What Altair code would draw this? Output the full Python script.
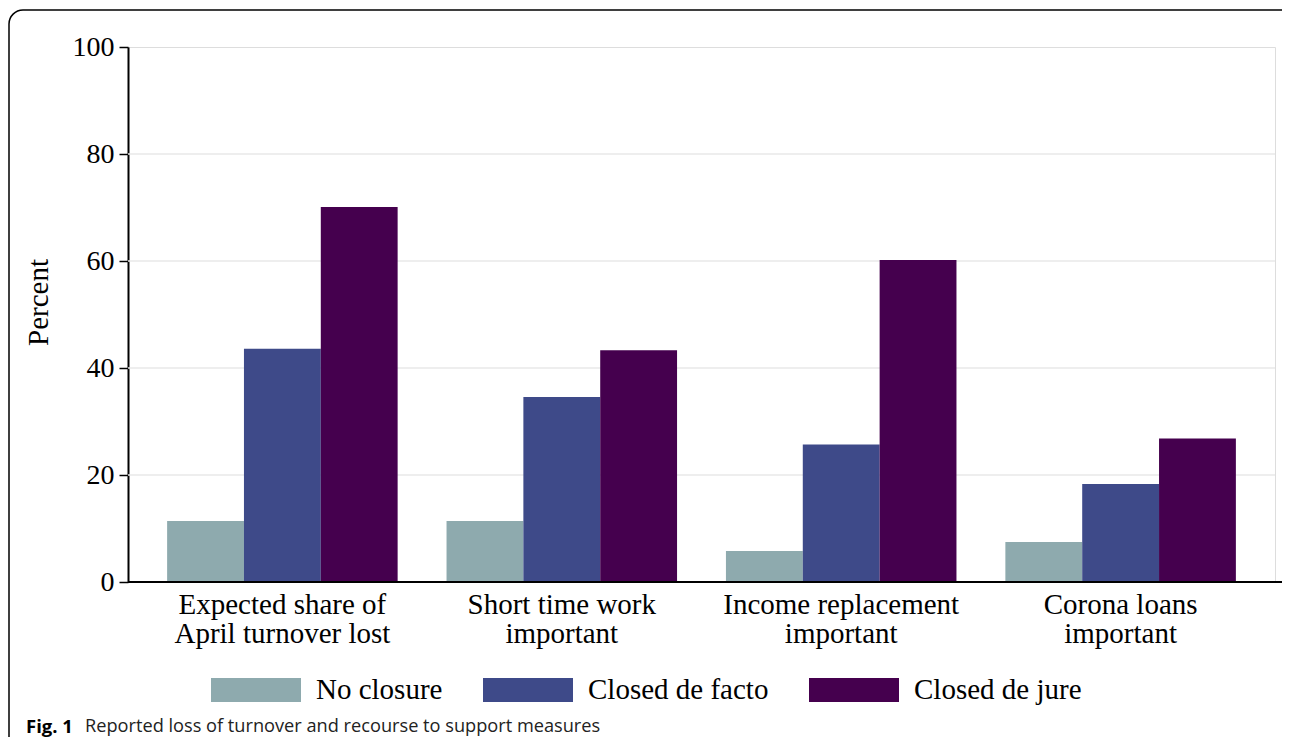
import altair as alt
import pandas as pd

categories = ["Expected share of|April turnover lost", "Short time work|important",
              "Income replacement|important", "Corona loans|important"]
series = ["No closure", "Closed de facto", "Closed de jure"]
no_closure = [11.4, 11.4, 5.8, 7.5]
de_facto = [43.6, 34.6, 25.7, 18.3]
de_jure = [70.1, 43.3, 60.2, 26.8]
colors = ["#8EAAAE", "#3E4A89", "#45004E"]
y_ticks = [0, 20, 40, 60, 80, 100]
grid_vals = [20, 40, 60, 80]
caption_bold = "Fig. 1"
caption_text = "Reported loss of turnover and recourse to support measures"

rows = []
for i, c in enumerate(categories):
    for s, vals in zip(series, [no_closure, de_facto, de_jure]):
        rows.append({"category": c, "series": s, "value": vals[i]})
df = pd.DataFrame(rows)

W, H = 1147, 535
SERIF = "Liberation Serif"

frame = alt.Chart(pd.DataFrame({"a": [0]})).mark_rect(
    fillOpacity=0, stroke="black", strokeWidth=1.5, cornerRadius=14
).encode(x=alt.value(-119), x2=alt.value(W + 40), y=alt.value(-37), y2=alt.value(H + 250))

grid = alt.Chart(pd.DataFrame({"g": grid_vals})).mark_rule(
    color="#e9e9e9", strokeWidth=1.5
).encode(y=alt.Y("g:Q", scale=alt.Scale(domain=[0, 100])))

bars = alt.Chart(df).mark_bar().encode(
    x=alt.X("category:N", sort=categories,
            scale=alt.Scale(paddingInner=0.175, paddingOuter=0.14),
            axis=alt.Axis(title=None, domain=False, ticks=False, labelAngle=0,
                          labelExpr="split(datum.label, '|')", labelLimit=1000,
                          labelFont=SERIF, labelFontSize=29, labelColor="black",
                          labelLineHeight=29, labelPadding=8, labelBaseline="top")),
    xOffset=alt.XOffset("series:N", sort=series,
                        scale=alt.Scale(paddingInner=0, paddingOuter=0)),
    y=alt.Y("value:Q", scale=alt.Scale(domain=[0, 100], nice=False),
            axis=alt.Axis(title="Percent", values=y_ticks, grid=False,
                          domainColor="black", domainWidth=2,
                          tickColor="black", tickWidth=1.5, tickSize=9,
                          labelFont=SERIF, labelFontSize=28, labelColor="black",
                          labelPadding=5,
                          titleFont=SERIF, titleFontSize=29, titleFontWeight="normal",
                          titleColor="black", titleX=-90, titleY=255,
                          titleAngle=270, titleAlign="center", titleBaseline="middle")),
    color=alt.Color("series:N", sort=series,
                    scale=alt.Scale(domain=series, range=colors),
                    legend=alt.Legend(title=None, orient="none", legendX=83, legendY=598,
                                      direction="horizontal",
                                      symbolType="M-1,-0.267H1V0.267H-1Z",
                                      symbolSize=8100, symbolStrokeWidth=0,
                                      symbolOpacity=1, labelLimit=1000,
                                      labelFont=SERIF, labelFontSize=29,
                                      labelColor="black", labelOffset=15,
                                      columnPadding=40, padding=0)),
)

xline = alt.Chart(pd.DataFrame({"a": [0]})).mark_rule(color="black", strokeWidth=2).encode(
    x=alt.value(0), x2=alt.value(W + 20), y=alt.value(H)
)

cap1 = alt.Chart(pd.DataFrame({"t": [caption_bold]})).mark_text(
    font="Open Sans", fontSize=18.5, fontWeight="bold", align="left", baseline="middle",
    color="black"
).encode(text="t:N", x=alt.value(-102), y=alt.value(680))

cap2 = alt.Chart(pd.DataFrame({"t": [caption_text]})).mark_text(
    font="Open Sans", fontSize=18.2, align="left", baseline="middle", color="#222222"
).encode(text="t:N", x=alt.value(-43), y=alt.value(680))

chart = alt.layer(frame, grid, bars, xline, cap1, cap2).properties(
    width=W, height=H,
    autosize=alt.AutoSizeParams(type="none"),
    padding={"left": 120, "top": 39, "right": 7, "bottom": 155},
).configure_view(stroke=None).configure(background="white")

chart.save("out.html", embed_options={"renderer": "svg", "actions": False})
